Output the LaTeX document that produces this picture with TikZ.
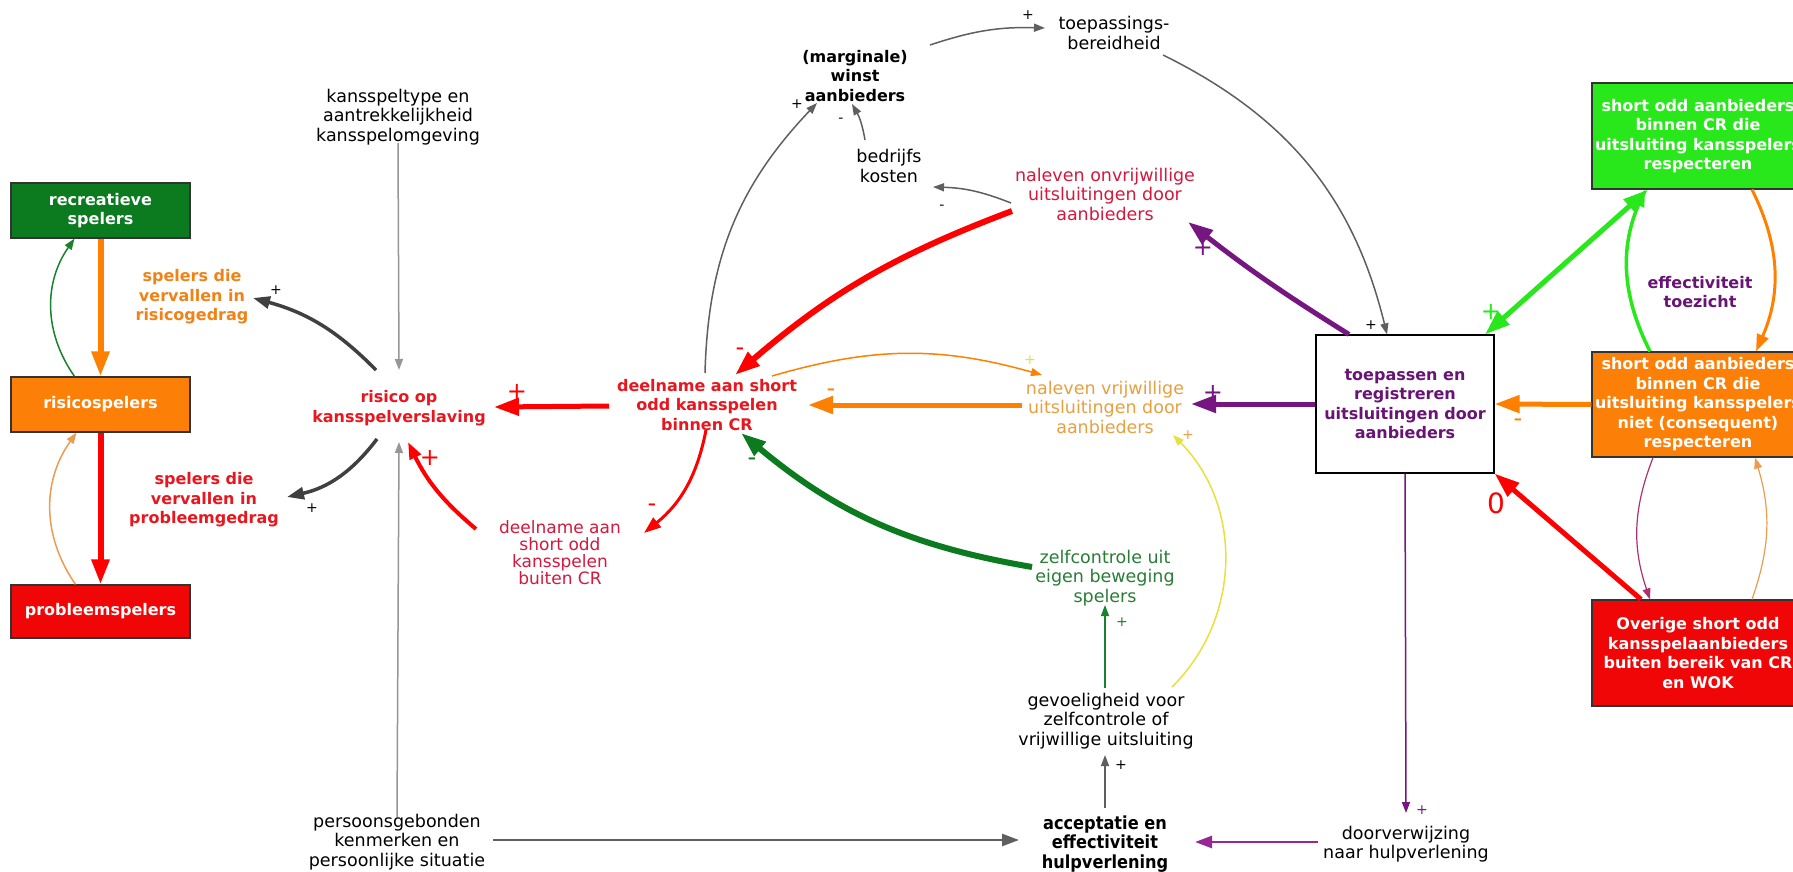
\documentclass[tikz,border=0pt]{standalone}
\usepackage{fontspec}
\setmainfont{DejaVu Sans}
\newfontfamily\condfont{DejaVu Sans Condensed}
\usetikzlibrary{arrows.meta,calc}

\definecolor{dkgreen}{RGB}{12,122,30}
\definecolor{ltgreen}{RGB}{40,232,28}
\definecolor{boxorange}{RGB}{252,128,8}
\definecolor{boxred}{RGB}{240,6,6}
\definecolor{txtred}{RGB}{232,22,30}
\definecolor{txtcrim}{RGB}{212,24,62}
\definecolor{txtorange}{RGB}{240,130,22}
\definecolor{txtgold}{RGB}{232,160,64}
\definecolor{txtgreen}{RGB}{40,125,55}
\definecolor{purp}{RGB}{104,20,116}
\definecolor{arrpurp}{RGB}{118,22,128}
\definecolor{magpurp}{RGB}{150,40,150}
\definecolor{darkline}{RGB}{64,64,64}
\definecolor{midgray}{RGB}{95,95,95}
\definecolor{ltgray}{RGB}{150,150,150}
\definecolor{yellowline}{RGB}{232,224,60}
\definecolor{maroonline}{RGB}{170,50,110}
\definecolor{arrorange}{RGB}{255,128,0}
\definecolor{paleorange}{RGB}{236,156,80}
\definecolor{arrred}{RGB}{255,0,0}
\definecolor{arrgreen}{RGB}{25,130,45}

\tikzset{
  lbl/.style={font=\fontsize{17.5}{19.5}\selectfont, align=center, inner sep=0pt},
  lblb/.style={font=\fontsize{16}{19.5}\selectfont\bfseries, align=center, inner sep=0pt},
  lblcb/.style={font=\condfont\fontsize{18}{19.5}\selectfont\bfseries, align=center, inner sep=0pt},
  box/.style={draw=black!80, line width=1.2pt, text=white, align=center, inner sep=0pt,
              font=\fontsize{16}{19.5}\selectfont\bfseries},
  thinarr/.style={line width=1.5pt, -{Triangle[length=11pt 0 0,width=8pt 0 0]}},
  medarr/.style={line width=3.5pt, -{Triangle[length=17pt 0 0,width=12pt 0 0]}},
  fatarr/.style={line width=5.5pt, -{Triangle[length=25pt 0 0,width=17pt 0 0]}},
  pol/.style={font=\fontsize{14}{14}\selectfont, inner sep=0pt},
  bigpol/.style={font=\fontsize{24}{24}\selectfont, inner sep=0pt},
}

\begin{document}
\begin{tikzpicture}[x=1pt,y=-1pt]
\fill[white] (0,0) rectangle (1793,872);
\useasboundingbox (0,0) rectangle (1793,872);

% ---- player stocks (left column)
\node[box, fill=dkgreen, minimum width=179, minimum height=55] (rec) at (100.5,210.5) {recreatieve\\spelers};
\node[box, fill=boxorange, minimum width=179, minimum height=55] (ris) at (100.5,404.5) {risicospelers};
\node[box, fill=boxred, minimum width=179, minimum height=53] (prob) at (100.5,611.5) {probleemspelers};

\node[lblb, text=txtorange] (sprisico) at (192,297) {spelers die\\vervallen in\\risicogedrag};
\node[lblb, text=txtred] (spprob) at (204,500) {spelers die\\vervallen in\\probleemgedrag};
\node[lblb, text=txtred] (risico) at (399,408) {risico op\\kansspelverslaving};
\node[lbl] (kans) at (398,117) {kansspeltype en\\aantrekkelijkheid\\kansspelomgeving};
\node[lbl] (pers) at (397,842) {persoonsgebonden\\kenmerken en\\persoonlijke situatie};

% ---- participation and compliance
\node[lblb, text=txtred] (deel) at (707,405) {deelname aan short\\odd kansspelen\\binnen CR};
\node[font=\fontsize{17}{17}\selectfont, align=center, inner sep=0pt, text=txtcrim] (buiten) at (560,553) {deelname aan\\short odd\\kansspelen\\buiten CR};
\node[lblb] (winst) at (855,76) {(marginale)\\winst\\aanbieders};
\node[lbl] (toep) at (1114,33) {toepassings-\\bereidheid};
\node[lbl] (bedr) at (889,166) {bedrijfs\\kosten};
\node[lbl, text=txtcrim] (onvr) at (1105,194) {naleven onvrijwillige\\uitsluitingen door\\aanbieders};
\node[lbl, text=txtgold] (vrij) at (1105,407) {naleven vrijwillige\\uitsluitingen door\\aanbieders};
\node[lbl, text=txtgreen] (zelf) at (1105,578) {zelfcontrole uit\\eigen beweging\\spelers};
\node[lbl] (gevoel) at (1106,721) {gevoeligheid voor\\zelfcontrole of\\vrijwillige uitsluiting};
\node[lblcb] (accept) at (1105,844) {acceptatie en\\effectiviteit\\hulpverlening};
\node[lbl] (door) at (1406,844) {doorverwijzing\\naar hulpverlening};

% ---- operators
\node[box, fill=white, text=purp, draw=black, minimum width=178, minimum height=138] (tr) at (1405,404) {toepassen en\\registreren\\uitsluitingen door\\aanbieders};
\node[box, fill=ltgreen, minimum width=212, minimum height=106] (gbox) at (1698,136) {short odd aanbieders\\binnen CR die\\uitsluiting kansspelers\\respecteren};
\node[box, fill=boxorange, minimum width=212, minimum height=105] (obox) at (1698,404.5) {short odd aanbieders\\binnen CR die\\uitsluiting kansspelers\\niet (consequent)\\respecteren};
\node[box, fill=boxred, minimum width=212, minimum height=106] (rbox) at (1698,653) {Overige short odd\\kansspelaanbieders\\buiten bereik van CR\\en WOK};
\node[lblb, text=purp] (eff) at (1700,292) {effectiviteit\\toezicht};

% ---- connectors, left column
\draw[fatarr, arrorange, line width=6pt] (rec.south) -- (ris.north);
\draw[fatarr, arrred, line width=6pt] (ris.south) -- (prob.north);
\draw[thinarr, arrgreen] ([xshift=-26pt]ris.north) to[bend left=35] ([xshift=-26pt]rec.south);
\draw[thinarr, paleorange] ([xshift=-25pt]prob.north) to[bend left=35] ([xshift=-24pt]ris.south);

\draw[medarr, darkline] ($(risico.center)+(-23,-38)$) to[bend right=15] ($(sprisico.center)+(61,1)$);
\draw[medarr, darkline] ($(risico.center)+(-22,31)$) to[bend left=20] ($(spprob.center)+(83,-3)$);
\draw[thinarr, ltgray] ($(kans.center)+(0,26)$) -- ($(risico.center)+(0,-38)$);
\draw[thinarr, ltgray] ($(pers.center)+(0,-25)$) -- ($(risico.center)+(0,34)$);

% ---- connectors, middle
\draw[fatarr, arrred, line width=5pt] ($(deel.center)+(-98,1)$) -- ($(risico.center)+(95,-1)$);
\draw[medarr, arrred, line width=3pt] ($(deel.center)+(-1,25)$) to[bend left=20] ($(buiten.center)+(84,-20)$);
\draw[medarr, arrred, line width=4pt] ($(buiten.center)+(-84,-24)$) to[bend left=12] ($(risico.center)+(9,34)$);
\draw[fatarr, arrred, line width=6pt] ($(onvr.center)+(-93,17)$) to[bend right=10] ($(deel.center)+(28,-30)$);
\draw[thinarr, midgray] ($(onvr.center)+(-94,9)$) to[bend right=10] ($(bedr.center)+(44,21)$);
\draw[thinarr, midgray] ($(bedr.center)+(-24,-26)$) to[bend right=10] ($(winst.center)+(-3,28)$);
\draw[thinarr, midgray] ($(deel.center)+(-2,-32)$) to[bend left=21] ($(winst.center)+(-38,27)$);
\draw[thinarr, midgray] ($(winst.center)+(75,-31)$) to[bend left=10] ($(toep.center)+(-69,-5)$);
\draw[thinarr, midgray] ($(toep.center)+(49,22)$) to[bend left=25] ([xshift=-18pt]tr.north);
\draw[fatarr, arrorange, line width=5pt] ($(vrij.center)+(-83,-2)$) -- ($(deel.center)+(101,0)$);
\draw[thinarr, arrorange] ($(deel.center)+(65,-29)$) to[bend left=16] ($(vrij.center)+(-63,-32)$);
\draw[fatarr, dkgreen, line width=6pt] ($(zelf.center)+(-73,-11)$) to[bend left=15] ($(deel.center)+(34,28)$);
\draw[thinarr, yellowline] ($(gevoel.center)+(66,-34)$) to[bend right=45] ($(vrij.center)+(68,28)$);
\draw[thinarr, arrgreen] ($(gevoel.center)+(-1,-33)$) -- ($(zelf.center)+(0,27)$);
\draw[thinarr, midgray] ($(accept.center)+(0,-36)$) -- ($(gevoel.center)+(-1,34)$);
\draw[medarr, midgray, line width=2.5pt] ($(pers.center)+(96,-2)$) -- ($(accept.center)+(-86,-4)$);
\draw[medarr, magpurp, line width=2.5pt] ($(door.center)+(-88,-2)$) -- ($(accept.center)+(90,-2)$);
\draw[thinarr, arrpurp] (tr.south) -- ($(door.center)+(0,-31)$);

% ---- connectors, right
\draw[fatarr, arrpurp, line width=5pt] (tr.west) -- ($(vrij.center)+(86,-3)$);
\draw[fatarr, arrpurp, line width=5pt] ([xshift=-56pt]tr.north) to[bend left=3] ($(onvr.center)+(83,28)$);
\draw[ltgreen, line width=5pt, {Triangle[length=25pt 0 0,width=17pt 0 0]}-{Triangle[length=25pt 0 0,width=17pt 0 0]}] ([xshift=80pt]tr.north) -- ([xshift=-50pt]gbox.south);
\draw[fatarr, arrorange, line width=5pt] (obox.west) -- (tr.east);
\draw[fatarr, arrred, line width=5pt] ([xshift=-57pt]rbox.north) -- (tr.south east);
\draw[medarr, ltgreen] ([xshift=-48pt]obox.north) to[bend left=25] ([xshift=-53pt]gbox.south);
\draw[medarr, arrorange, line width=3pt] ([xshift=54pt]gbox.south) to[bend left=25] ([xshift=58pt]obox.north);
\draw[thinarr, maroonline, line width=1.2pt] ([xshift=-45pt]obox.south) to[bend right=20] ([xshift=-48pt]rbox.north);
\draw[thinarr, paleorange, line width=1.2pt] ([xshift=54pt]rbox.north) to[bend right=18] ([xshift=57pt]obox.south);

% ---- polarity marks
\node[pol] (p1) at (276,290) {+};
\node[pol] (p2) at (312,508) {+};
\node[bigpol, text=arrred] (p3) at (517,392) {+};
\node[bigpol, text=arrred] (p4) at (430,458) {+};
\node[bigpol, text=arrred] (p5) at (740,352) {-};
\node[bigpol, text=arrred] (p6) at (652,508) {-};
\node[bigpol, text=arrorange] (p7) at (831,393) {-};
\node[bigpol, text=dkgreen] (p8) at (752,462) {-};
\node[pol, text=yellowline] (p9) at (1030,360) {+};
\node[bigpol, text=arrpurp] (p10) at (1213,393) {+};
\node[pol, text=txtgold] (p11) at (1188,435) {+};
\node[bigpol, text=arrpurp] (p12) at (1203,248) {+};
\node[pol] (p13) at (942,207) {-};
\node[pol] (p14) at (841,120) {-};
\node[pol] (p15) at (797,104) {+};
\node[pol] (p16) at (1028,15) {+};
\node[pol] (p17) at (1371,325) {+};
\node[bigpol, text=ltgreen] (p18) at (1491,312) {+};
\node[bigpol, text=arrorange] (p19) at (1518,423) {-};
\node[bigpol, text=arrred, font=\fontsize{28}{28}\selectfont] (p20) at (1496,503) {0};
\node[pol, text=arrgreen] (p21) at (1122,622) {+};
\node[pol] (p22) at (1121,765) {+};
\node[pol, text=arrpurp] (p23) at (1422,810) {+};
\end{tikzpicture}
\end{document}
